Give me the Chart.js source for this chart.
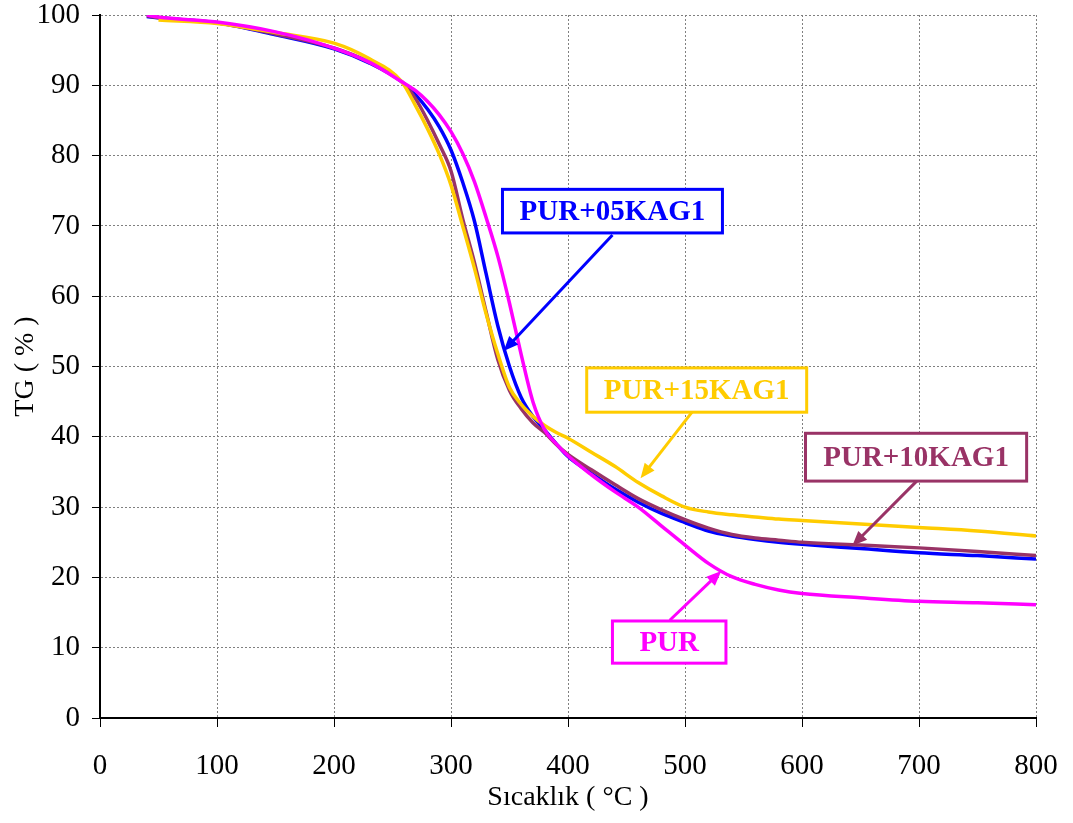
<!DOCTYPE html>
<html>
<head>
<meta charset="utf-8">
<script src="https://cdn.jsdelivr.net/npm/chart.js@4.4.1/dist/chart.umd.min.js"></script>
<style>
  html, body { margin: 0; padding: 0; background: #fff; }
  #wrap { width: 1073px; height: 823px; }
</style>
</head>
<body>
<div id="wrap"><canvas id="myChart"></canvas></div>
<script>
// Sıcaklık (°C) değerleri
const sicaklik = [40, 50, 100, 150, 200, 230, 258, 270, 280, 290, 300, 310, 320, 330, 340, 350, 360, 370, 380, 390, 400, 420, 440, 460, 480, 500, 520, 540, 560, 580, 600, 650, 700, 750, 800];

// TG (%) serileri
const tgPUR    = [100, 99.7, 99.0, 97.6, 95.3, 93.3, 90.5, 89.2, 87.7, 85.8, 83.4, 80.3, 76.3, 71.2, 65.7, 59.0, 51.7, 45.0, 41.0, 39.0, 37.3, 34.6, 32.2, 30.0, 27.3, 24.6, 22.0, 20.1, 19.0, 18.2, 17.7, 17.1, 16.6, 16.4, 16.1];
const tgPUR05  = [99.8, 99.6, 98.9, 97.2, 95.2, 93.2, 90.5, 88.6, 86.6, 84.1, 80.8, 76.2, 70.7, 63.2, 55.8, 50.0, 45.6, 42.9, 41.0, 39.0, 37.2, 34.8, 32.6, 30.7, 29.1, 27.8, 26.6, 25.9, 25.4, 25.0, 24.7, 24.1, 23.5, 23.1, 22.6];
const tgPUR10  = [99.9, 99.6, 98.9, 97.3, 95.3, 93.3, 90.5, 88.0, 85.0, 81.6, 77.8, 71.0, 64.8, 57.8, 51.0, 46.6, 44.0, 42.0, 40.6, 38.9, 37.5, 35.3, 33.2, 31.2, 29.6, 28.2, 27.0, 26.1, 25.6, 25.3, 25.0, 24.6, 24.2, 23.7, 23.1];
const tgPUR15  = [null, 99.3, 98.8, 97.5, 96.0, 93.8, 90.5, 87.0, 83.8, 80.2, 75.8, 70.0, 64.0, 57.5, 51.8, 47.0, 44.6, 42.9, 41.6, 40.6, 39.8, 37.8, 35.8, 33.5, 31.6, 30.0, 29.3, 28.9, 28.6, 28.3, 28.1, 27.6, 27.1, 26.6, 25.9];

// Etiket kutuları (veri koordinatlarında)
const etiketler = ["PUR+05KAG1", "PUR+15KAG1", "PUR+10KAG1", "PUR"];
const etiketRenk = ["#0000FF", "#FFCC00", "#993366", "#FF00FF"];
const kutuX = [[344, 532], [416, 604], [603, 792], [438, 535]];
const kutuY = [[69.0, 75.2], [43.5, 49.8], [33.7, 40.5], [7.8, 13.8]];
const okBas = [[438, 68.7], [506, 43.5], [698, 33.7], [487, 13.9]];
const okUc  = [[345, 52.2], [462, 34.1], [643, 24.5], [531, 20.9]];

const ctx = document.getElementById("myChart");

function puntos(valores) {
  return sicaklik.map((t, i) => ({ x: t, y: valores[i] }));
}

function serie(label, valores, color) {
  return {
    label: label,
    data: puntos(valores),
    borderColor: color,
    backgroundColor: color,
    borderWidth: 3.5,
    pointRadius: 0,
    fill: false,
    spanGaps: true,
    cubicInterpolationMode: "monotone",
  };
}

// Kutular ve oklar
const etiketPlugin = {
  id: "etiketPlugin",
  afterDatasetsDraw(chart) {
    const c = chart.ctx;
    const xs = chart.scales.x;
    const ys = chart.scales.y;
    c.save();
    etiketler.forEach((txt, i) => {
      const color = etiketRenk[i];
      // ok
      const x1 = xs.getPixelForValue(okBas[i][0]);
      const y1 = ys.getPixelForValue(okBas[i][1]);
      const x2 = xs.getPixelForValue(okUc[i][0]);
      const y2 = ys.getPixelForValue(okUc[i][1]);
      const ang = Math.atan2(y2 - y1, x2 - x1);
      const head = 16;
      c.strokeStyle = color;
      c.fillStyle = color;
      c.lineWidth = 3;
      c.beginPath();
      c.moveTo(x1, y1);
      c.lineTo(x2 - Math.cos(ang) * head * 0.8, y2 - Math.sin(ang) * head * 0.8);
      c.stroke();
      c.beginPath();
      c.moveTo(x2, y2);
      c.lineTo(x2 - head * Math.cos(ang - 0.4), y2 - head * Math.sin(ang - 0.4));
      c.lineTo(x2 - head * Math.cos(ang + 0.4), y2 - head * Math.sin(ang + 0.4));
      c.closePath();
      c.fill();

      // kutu
      const left = xs.getPixelForValue(kutuX[i][0]);
      const right = xs.getPixelForValue(kutuX[i][1]);
      const top = ys.getPixelForValue(kutuY[i][1]);
      const bottom = ys.getPixelForValue(kutuY[i][0]);
      c.fillStyle = "#fff";
      c.fillRect(left, top, right - left, bottom - top);
      c.lineWidth = 3;
      c.strokeStyle = color;
      c.strokeRect(left, top, right - left, bottom - top);
      c.fillStyle = color;
      c.font = "bold 29px 'Liberation Serif', 'Times New Roman', serif";
      c.textAlign = "center";
      c.textBaseline = "middle";
      c.fillText(txt, (left + right) / 2, (top + bottom) / 2 + 1);
    });
    c.restore();
  },
};

const tickFont = { family: "'Liberation Serif', 'Times New Roman', serif", size: 29 };
const titleFont = { family: "'Liberation Serif', 'Times New Roman', serif", size: 28 };

new Chart(ctx, {
  type: "line",
  data: {
    datasets: [
      serie("PUR", tgPUR, "#FF00FF"),
      serie("PUR+15KAG1", tgPUR15, "#FFCC00"),
      serie("PUR+10KAG1", tgPUR10, "#993366"),
      serie("PUR+05KAG1", tgPUR05, "#0000FF"),
    ],
  },
  options: {
    responsive: true,
    maintainAspectRatio: false,
    animation: false,
    layout: { padding: { left: 0, right: 37, top: 15, bottom: 0 } },
    plugins: {
      legend: { display: false },
      tooltip: { enabled: false },
    },
    scales: {
      x: {
        type: "linear",
        min: 0,
        max: 800,
        afterFit: (scale) => {
          scale.height = 105;
          scale.paddingLeft = 0;
          scale.paddingRight = 0;
        },
        ticks: { stepSize: 100, color: "#000", font: tickFont, padding: 22, maxRotation: 0 },
        grid: { color: "#808080", tickColor: "#000", tickLength: 9, lineWidth: 1 },
        border: { color: "#000", width: 2, dash: [2, 2] },
        title: { display: true, text: "Sıcaklık ( °C )", color: "#000", font: titleFont, padding: { top: 0, bottom: 9 } },
      },
      y: {
        min: 0,
        max: 100,
        afterFit: (scale) => {
          scale.width = 100;
          scale.paddingTop = 0;
          scale.paddingBottom = 0;
        },
        ticks: { stepSize: 10, color: "#000", font: tickFont, padding: 12 },
        grid: { color: "#808080", tickColor: "#000", tickLength: 8, lineWidth: 1 },
        border: { color: "#000", width: 2, dash: [2, 2] },
        title: { display: true, text: "TG ( % )", color: "#000", font: titleFont, padding: { top: 9, bottom: 0 } },
      },
    },
  },
  plugins: [etiketPlugin],
});
</script>
</body>
</html>
